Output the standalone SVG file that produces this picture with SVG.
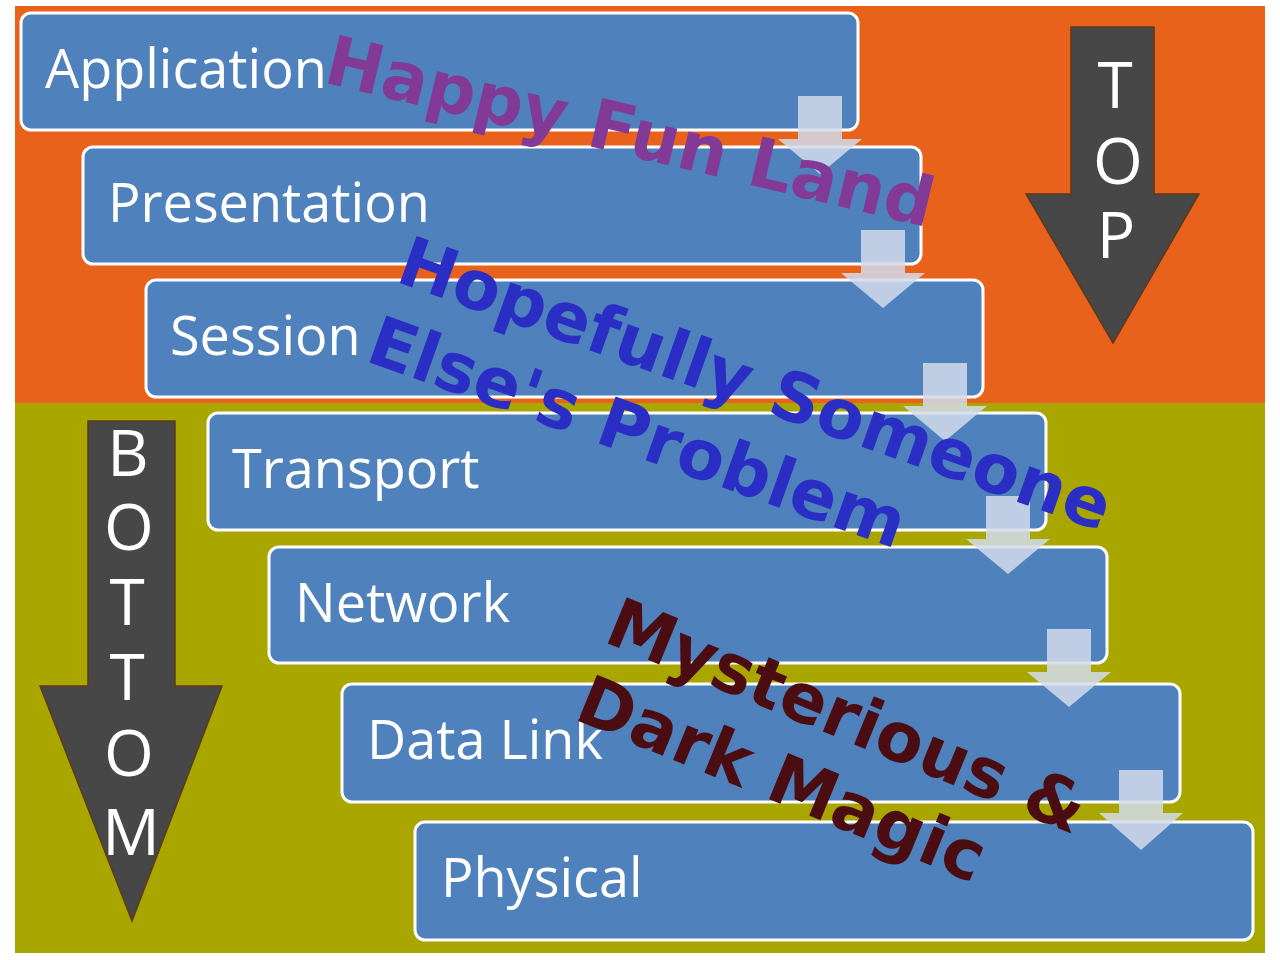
<svg xmlns="http://www.w3.org/2000/svg" width="1280" height="960" viewBox="0 0 1280 960">
<style>
.box{fill:#4F81BD;stroke:#FFFFFF;stroke-width:3}
.lbl{font-family:"Open Sans","Noto Sans","DejaVu Sans",sans-serif;font-size:54px;fill:#FFFFFF}
.big{fill:#474747;stroke:#5C3A1A;stroke-width:1.5}
.bl{font-family:"Open Sans","Noto Sans","DejaVu Sans",sans-serif;font-size:64px;fill:#FFFFFF;text-anchor:middle}
.con{fill:#D2DCEC;opacity:0.85}
.rot{font-family:"DejaVu Sans",sans-serif;font-weight:bold;font-size:68.5px}
</style>
<rect x="0" y="0" width="1280" height="960" fill="#FFFFFF"/>
<rect x="15" y="6" width="1250" height="397" fill="#E8621B"/>
<rect x="15" y="403" width="1250" height="550" fill="#A9A600"/>

<g id="top-arrow">
<polygon class="big" points="1071,27 1154,27 1154,194 1199,194 1113,343 1026,194 1071,194"/>
<text class="bl"><tspan x="1115" y="108">T</tspan><tspan x="1118" y="184">O</tspan><tspan x="1116" y="258">P</tspan></text>
</g>
<g id="bottom-arrow">
<polygon class="big" points="88,421 175,421 175,686 222,686 132,921 40,686 88,686"/>
<text class="bl"><tspan x="128" y="476">B</tspan><tspan x="129" y="550">O</tspan><tspan x="127" y="625">T</tspan><tspan x="127" y="700">T</tspan><tspan x="129" y="776">O</tspan><tspan x="131" y="855">M</tspan></text>
</g>

<g id="application"><rect class="box" x="21" y="13" width="837" height="117" rx="10"/><text class="lbl" x="45" y="88">Application</text></g>
<g id="presentation"><rect class="box" x="83" y="147" width="838" height="117" rx="10"/><text class="lbl" x="108" y="222">Presentation</text></g>
<g id="session"><rect class="box" x="146" y="280" width="837" height="117" rx="10"/><text class="lbl" x="170" y="355">Session</text></g>
<g id="transport"><rect class="box" x="208" y="413" width="838" height="117" rx="10"/><text class="lbl" x="232" y="488">Transport</text></g>
<g id="network"><rect class="box" x="269" y="547" width="838" height="116" rx="10"/><text class="lbl" x="295" y="622">Network</text></g>
<g id="datalink"><rect class="box" x="342" y="684" width="838" height="118" rx="10"/><text class="lbl" x="367" y="759">Data Link</text></g>
<g id="physical"><rect class="box" x="415" y="822" width="838" height="118" rx="10"/><text class="lbl" x="441" y="897">Physical</text></g>

<g id="connectors">
<polygon class="con" points="798,96 842,96 842,139 862,139 820,174 778,139 798,139"/>
<polygon class="con" points="861,230 905,230 905,273 925,273 883,308 841,273 861,273"/>
<polygon class="con" points="923,363 967,363 967,406 987,406 945,441 903,406 923,406"/>
<polygon class="con" points="986,496 1030,496 1030,539 1050,539 1008,574 966,539 986,539"/>
<polygon class="con" points="1047,629 1091,629 1091,672 1111,672 1069,707 1027,672 1047,672"/>
<polygon class="con" points="1119,770 1163,770 1163,813 1183,813 1141,850 1099,813 1119,813"/>
</g>

<g id="annotations">
<text class="rot" fill="#833A96" transform="translate(322,82) rotate(13.5)">Happy Fun Land</text>
<text class="rot" fill="#2A2EC4" transform="translate(394,281) rotate(19.5)">Hopefully Someone<tspan x="-2" dy="85">Else's Problem</tspan></text>
<text class="rot" fill="#4B0D12" transform="translate(602,641) rotate(22.3)">Mysterious &amp;<tspan x="2" dy="83">Dark Magic</tspan></text>
</g>
</svg>
